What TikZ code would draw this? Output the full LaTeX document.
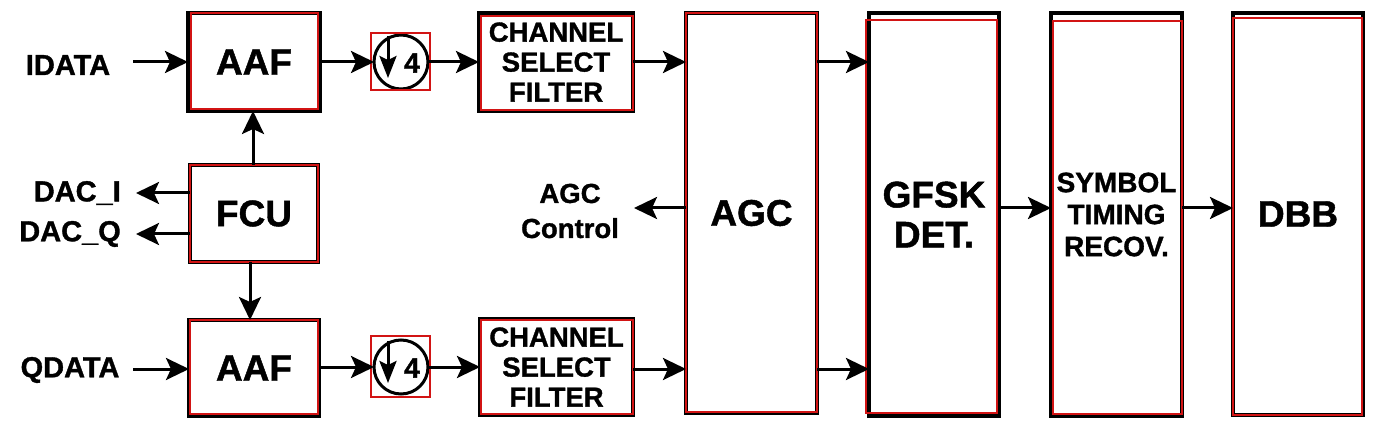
\documentclass[tikz,border=0pt]{standalone}
\usepackage{fontspec}
\setmainfont{Liberation Sans}[BoldFeatures={FakeBold=1.2}]
\usetikzlibrary{arrows.meta}
\tikzset{
  blk/.style={draw=black, line width=3.2pt, fill=white, inner sep=0pt, outer sep=0pt, align=center, font=\bfseries\fontsize{37}{40}\selectfont},
  sblk/.style={blk, font=\bfseries\fontsize{27.5}{30}\selectfont},
  tblk/.style={blk, font=\bfseries\fontsize{28}{32}\selectfont},
  redbox/.style={draw={rgb,255:red,210;green,20;blue,20}, line width=2.2pt},
  lbl/.style={inner sep=0pt, align=center, font=\bfseries\fontsize{29}{35}\selectfont},
  arr/.style={line width=3pt, -{Stealth[length=23pt, width=22pt, inset=5pt]}},
  darr/.style={line width=3pt, -{Stealth[length=22pt, width=17pt, inset=4pt]}},
  dsc/.style={draw=black, line width=3pt, circle, minimum size=54pt, inner sep=0pt, outer sep=0pt}
}
\begin{document}
\begin{tikzpicture}[x=1pt, y=-1pt]
\useasboundingbox (0,0) rectangle (1377,422);
% blocks
\node[blk, minimum width=132pt, minimum height=98pt] (aaf1) at (254,62) {AAF};
\node[blk, minimum width=128pt, minimum height=97pt] (fcu) at (254,213.5) {FCU};
\node[blk, minimum width=130pt, minimum height=96pt] (aaf2) at (254,368) {AAF};
\node[dsc] (d1) at (401,62) {};
\node[dsc] (d2) at (401,367) {};
\node[sblk, minimum width=154pt, minimum height=98pt] (csf1) at (556,62) {CHANNEL\\SELECT\\FILTER};
\node[sblk, minimum width=153pt, minimum height=96pt] (csf2) at (556.5,367) {CHANNEL\\SELECT\\FILTER};
\node[blk, minimum width=131pt, minimum height=400pt] (agc) at (751.5,213) {AGC};
\node[blk, minimum width=130pt, minimum height=403pt] (gfsk) at (934,214.5) {GFSK\\DET.};
\node[tblk, minimum width=131pt, minimum height=403pt] (sym) at (1116.5,214.5) {SYMBOL\\TIMING\\RECOV.};
\node[blk, minimum width=130pt, minimum height=402pt] (dbb) at (1298,214) {DBB};
% red overlays
\draw[redbox] (191,13) rectangle (318,109);
\draw[redbox] (190,165) rectangle (318,262);
\draw[redbox] (190,320) rectangle (318,414);
\draw[redbox] (371,33) rectangle (430,90);
\draw[redbox] (371,336) rectangle (430,397);
\draw[redbox] (481,16) rectangle (633,110);
\draw[redbox] (481,320) rectangle (633,414);
\draw[redbox] (686,13) rectangle (817,412);
\draw[redbox] (866,20) rectangle (997,413);
\draw[redbox] (1053,21) rectangle (1182,414);
\draw[redbox] (1233,18) rectangle (1362,415);
% downsampler symbols
\draw[darr] (388,36) -- (388,78);
\node[font=\bfseries\fontsize{28}{28}\selectfont, inner sep=0pt] at (412,63) {4};
\draw[darr] (388,341) -- (388,383);
\node[font=\bfseries\fontsize{28}{28}\selectfont, inner sep=0pt] at (412,368) {4};
% labels
\node[lbl] (idata) at (68,65) {IDATA};
\node[lbl] (qdata) at (70,370) {QDATA};
\node[lbl, anchor=east] (daci) at (121,193) {DAC\_I};
\node[lbl, anchor=east] (dacq) at (121,234) {DAC\_Q};
\node[lbl, font=\bfseries\fontsize{27.5}{35}\selectfont] (agcc) at (570,211) {AGC\\Control};
\coordinate (i0) at (133,62);
\coordinate (q0) at (133,369);
\coordinate (di) at (136,193);
\coordinate (dq) at (136,234);
\coordinate (ac) at (634,208);
\coordinate (mid) at (0,208);
\coordinate (top) at (0,62);
\coordinate (bot) at (0,369);
% connectors
\draw[arr] (i0) -- (aaf1.west |- i0);
\draw[arr] (q0) -- (aaf2.west |- q0);
\draw[arr] (aaf1.east |- top) -- (d1.west);
\draw[arr] (d1.east) -- (csf1.west |- d1.east);
\draw[arr] (csf1.east) -- (agc.west |- csf1.east);
\draw[arr] (aaf2.east |- d2) -- (d2.west);
\draw[arr] (d2.east) -- (csf2.west |- d2.east);
\draw[arr] (csf2.east |- bot) -- (agc.west |- bot);
\draw[arr] (agc.east |- top) -- (gfsk.west |- top);
\draw[arr] (agc.east |- bot) -- (gfsk.west |- bot);
\draw[arr] (agc.west |- mid) -- (ac);
\draw[arr] (gfsk.east |- mid) -- (sym.west |- mid);
\draw[arr] (sym.east |- mid) -- (dbb.west |- mid);
\draw[arr] ([xshift=-1pt]fcu.north) -- ([xshift=-1pt]aaf1.south);
\draw[arr] ([xshift=-4pt]fcu.south) -- ([xshift=-4pt]aaf2.north);
\draw[arr] (fcu.west |- di) -- (di);
\draw[arr] (fcu.west |- dq) -- (dq);
\end{tikzpicture}
\end{document}
